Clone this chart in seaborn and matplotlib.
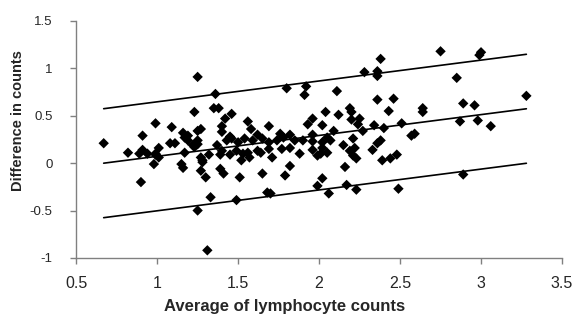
import numpy as np
import pandas as pd
import matplotlib
matplotlib.use("Agg")
import matplotlib.pyplot as plt
import seaborn as sns
from matplotlib.ticker import FormatStrFormatter, MultipleLocator

# average of the two counts (x) and their difference (y)
avg_counts = [
    1.25, 1.36, 1.80, 1.92, 1.91, 2.11, 2.28, 2.36, 2.36, 2.38, 2.36, 2.46,
    2.75, 3.00, 2.99, 2.85, 3.28, 2.89, 2.96,
    1.35, 1.38, 1.23, 1.46, 1.42, 1.40, 1.40, 0.99, 1.09, 1.27, 1.16, 1.19,
    0.91, 1.45, 1.56, 1.69, 1.58, 1.62, 1.76, 1.82, 1.96, 1.93, 2.02, 1.96,
    2.04, 2.12, 2.19, 2.20, 2.20, 2.25, 2.24, 2.34, 2.40, 2.27, 2.09, 2.43,
    2.51, 2.64, 2.64, 2.87, 2.98, 3.06, 2.57, 2.59,
    0.67, 0.82, 0.91, 0.89, 0.94, 0.99, 1.01, 0.99, 1.01, 0.98, 1.08, 1.11,
    1.17, 1.15, 1.16, 1.17, 1.19, 1.22, 1.25, 1.25, 1.25, 1.23, 1.27, 1.28,
    1.32, 1.39, 1.45, 1.37, 1.43, 1.46, 1.50, 1.54, 1.59, 1.65, 1.69, 1.74,
    1.78, 1.85, 1.90, 1.96, 1.40, 1.49, 1.53, 1.56, 1.62, 1.69, 1.77, 1.82,
    1.88, 1.96, 2.01, 1.28, 1.52, 1.57, 1.71, 1.64, 2.05, 2.02, 2.07, 2.02,
    2.05, 2.21, 2.22, 2.15, 2.19, 2.38, 2.36, 2.33, 2.21, 2.23, 2.39, 2.44,
    2.48, 1.99,
    1.27, 1.39, 1.41, 1.30, 1.51, 1.65, 1.82, 1.79, 2.02, 1.99, 2.16, 2.17,
    2.23, 2.49, 1.68, 1.70, 1.33, 1.49, 0.90, 2.06,
    1.25, 1.31, 2.89,
]
diff_counts = [
    0.91, 0.73, 0.79, 0.81, 0.72, 0.76, 0.96, 0.97, 0.92, 1.10, 0.67, 0.68,
    1.18, 1.17, 1.14, 0.90, 0.71, 0.63, 0.61,
    0.58, 0.58, 0.54, 0.52, 0.47, 0.39, 0.33, 0.42, 0.38, 0.36, 0.32, 0.29,
    0.29, 0.28, 0.44, 0.39, 0.36, 0.30, 0.31, 0.30, 0.47, 0.41, 0.40, 0.30,
    0.54, 0.51, 0.58, 0.54, 0.46, 0.47, 0.41, 0.40, 0.37, 0.34, 0.34, 0.55,
    0.42, 0.58, 0.54, 0.44, 0.45, 0.39, 0.29, 0.31,
    0.21, 0.11, 0.14, 0.10, 0.10, 0.10, 0.16, 0.09, 0.06, -0.01, 0.21, 0.21,
    0.11, -0.01, -0.05, 0.27, 0.24, 0.19, 0.34, 0.24, 0.20, 0.17, 0.06, 0.01,
    0.09, 0.09, 0.09, 0.19, 0.24, 0.26, 0.22, 0.26, 0.24, 0.26, 0.22, 0.24,
    0.27, 0.24, 0.24, 0.23, 0.13, 0.13, 0.10, 0.11, 0.13, 0.15, 0.15, 0.16,
    0.10, 0.14, 0.10, 0.03, 0.03, 0.06, 0.06, 0.11, 0.27, 0.22, 0.24, 0.16,
    0.11, 0.26, 0.16, 0.19, 0.13, 0.24, 0.21, 0.14, 0.08, 0.05, 0.03, 0.05,
    0.09, 0.08,
    -0.08, -0.06, -0.11, -0.15, -0.15, -0.11, -0.03, -0.13, -0.16, -0.24,
    -0.04, -0.23, -0.28, -0.27, -0.31, -0.32, -0.36, -0.39, -0.20, -0.32,
    -0.50, -0.92, -0.12,
]

# regression of difference on average, with limits of agreement
intercept = -0.148
slope = 0.22
loa_offset = 0.575

df = pd.DataFrame({"avg": avg_counts, "diff": diff_counts})

sns.set_style("white")
plt.rcParams["font.family"] = ["Liberation Sans", "DejaVu Sans"]
plt.rcParams["axes.unicode_minus"] = False

fig = plt.figure(figsize=(5.77, 3.18), dpi=100)
ax = fig.add_axes([0.132, 0.189, 0.842, 0.745])

sns.scatterplot(data=df, x="avg", y="diff", marker="D", color="black",
                edgecolor="none", s=28, ax=ax, zorder=3)

xs = np.array([df["avg"].min(), df["avg"].max()])
for off in (loa_offset, 0.0, -loa_offset):
    ax.plot(xs, intercept + slope * xs + off, color="black", lw=1.2, zorder=2)

ax.set_xlim(0.5, 3.5)
ax.set_ylim(-1, 1.5)
ax.xaxis.set_major_locator(MultipleLocator(0.5))
ax.yaxis.set_major_locator(MultipleLocator(0.5))
ax.xaxis.set_major_formatter(FormatStrFormatter("%g"))
ax.yaxis.set_major_formatter(FormatStrFormatter("%g"))

for side in ("top", "right"):
    ax.spines[side].set_visible(False)
for side in ("left", "bottom"):
    ax.spines[side].set_color("#808080")
    ax.spines[side].set_linewidth(1.0)
ax.tick_params(direction="out", length=4, width=1, color="#808080",
               left=True, bottom=True)
ax.tick_params(axis="x", labelsize=11.5, pad=9)
ax.tick_params(axis="y", labelsize=9.5, pad=13)

ax.set_xlabel("Average of lymphocyte counts", fontsize=12, fontweight="bold")
ax.set_ylabel("Difference in counts", fontsize=10.5, fontweight="bold")
ax.xaxis.set_label_coords(0.428, -0.175)
ax.yaxis.set_label_coords(-0.105, 0.58)

fig.savefig("out.png", dpi=100)
